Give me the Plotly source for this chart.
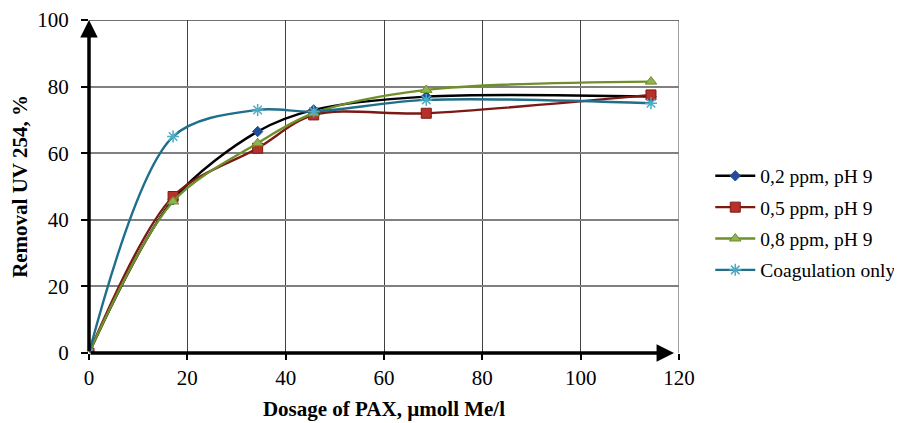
import plotly.graph_objects as go

dosage = [0, 17.1, 34.3, 45.7, 68.6, 114.3]
s02 = [0, 46, 66.5, 73, 77, 77]
s05 = [0, 47, 61.5, 71.5, 72, 77.5]
s08 = [0, 45.5, 63, 72, 79, 81.5]
coag = [0, 65, 73, 72.5, 76, 75]

names = ["0,2 ppm, pH 9", "0,5 ppm, pH 9", "0,8 ppm, pH 9", "Coagulation only"]
series = [s02, s05, s08, coag]
line_colors = ["#000000", "#7B1A14", "#6E8F2A", "#1F6E8C"]
marker_colors = ["#1F4E9A", "#B8302A", "#8FB34E", "#4BACC6"]
marker_line = ["#1F4E9A", "#7B1A14", "#6E8F2A", "#1F6E8C"]
symbols = ["diamond", "square", "triangle-up", "asterisk-open"]
sizes = [8, 10, 10, 10]

fig = go.Figure()
for i, (n, ys, lc, mc, ml, sy, sz) in enumerate(zip(names, series, line_colors, marker_colors, marker_line, symbols, sizes)):
    fig.add_trace(go.Scatter(
        x=dosage, y=ys, name=n, mode="lines+markers", legendgroup=str(i),
        line=dict(color=lc, width=2.4, shape="spline", smoothing=0.9),
        marker=dict(symbol=sy, size=sz, color=mc,
                    line=dict(color=(mc if sy == "asterisk-open" else ml), width=(1.5 if sy == "asterisk-open" else 1))),
    ))

font = dict(family="Liberation Serif", color="#000000")

# the page has an 8px body margin, so the figure is sized to fit the 902x423 window
fig.update_layout(
    width=894, height=415,
    margin=dict(l=81, r=223, t=12, b=70, autoexpand=False),
    paper_bgcolor="white", plot_bgcolor="white",
    font=dict(size=21, **font),
    showlegend=True,
    legend=dict(x=1.053, y=0.39, xanchor="left", yanchor="middle",
                font=dict(size=19.5, **font), tracegroupgap=3, itemwidth=40,
                bgcolor="rgba(0,0,0,0)"),
    xaxis=dict(range=[0, 120], dtick=20, tick0=0, automargin=False,
               showgrid=True, gridcolor="#404040", gridwidth=1,
               showline=False, zeroline=False,
               ticks="outside", ticklen=6, tickwidth=2, tickcolor="#000",
               ticklabeloverflow="allow",
               tickfont=dict(size=21, **font),
               title=dict(text="<b>Dosage of PAX, µmoll Me/l</b>", font=dict(size=21, **font), standoff=12)),
    yaxis=dict(range=[0, 100], dtick=20, tick0=0, automargin=False,
               showgrid=True, gridcolor="#808080", gridwidth=1.5,
               showline=False, zeroline=False,
               ticks="outside", ticklen=7, tickwidth=2, tickcolor="#000",
               ticklabelstandoff=8, ticklabeloverflow="allow",
               tickfont=dict(size=21, **font),
               title=dict(text="<b>Removal UV 254, %</b>", font=dict(size=21, **font), standoff=10)),
)

# right and top borders of the plot area
fig.add_shape(type="line", xref="x", yref="y", x0=120, x1=120, y0=0, y1=100,
              line=dict(color="#808080", width=1.5), layer="below")
fig.add_shape(type="line", xref="x", yref="y", x0=0, x1=120, y0=100, y1=100,
              line=dict(color="#404040", width=1.5), layer="below")

# axes with arrowheads
fig.add_annotation(x=0, y=100, ax=0, ay=0, xref="x", yref="y", axref="x", ayref="y",
                   showarrow=True, arrowhead=2, arrowsize=1, arrowwidth=3.5, arrowcolor="#000", text="")
fig.add_annotation(x=119, y=0, ax=0, ay=0, xref="x", yref="y", axref="x", ayref="y",
                   showarrow=True, arrowhead=2, arrowsize=1, arrowwidth=3.5, arrowcolor="#000", text="")

fig.write_html("out.html")
